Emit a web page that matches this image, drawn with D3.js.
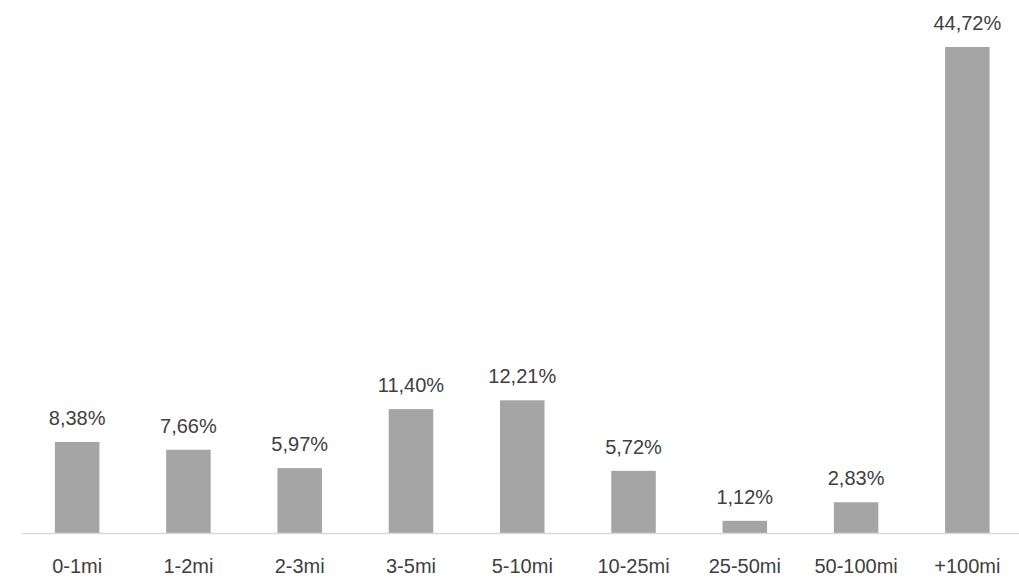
<!DOCTYPE html>
<html>
<head>
<meta charset="utf-8">
<script src="https://cdn.jsdelivr.net/npm/d3@7"></script>
<style>
  html, body { margin: 0; padding: 0; background: #fff; }
  svg { display: block; }
  text { font-family: "Liberation Sans", Arial, sans-serif; fill: #404040; }
</style>
</head>
<body>
<svg id="chart" width="1019" height="578"></svg>
<script>
// Share of records by distance band (%)
const categories = ["0-1mi", "1-2mi", "2-3mi", "3-5mi", "5-10mi", "10-25mi", "25-50mi", "50-100mi", "+100mi"];
const values = [8.38, 7.66, 5.97, 11.40, 12.21, 5.72, 1.12, 2.83, 44.72];

const width = 1019, height = 578;
const baseY = 533;
const svg = d3.select("#chart");

const x = d3.scaleBand()
  .domain(categories)
  .range([21.5, 1023])
  .paddingInner(0.6)
  .paddingOuter(0.3);

const y = d3.scaleLinear()
  .domain([0, 44.72])
  .range([baseY, 47]);

const fmt = v => v.toFixed(2).replace(".", ",") + "%";

// bars
svg.append("g")
  .selectAll("rect")
  .data(values)
  .join("rect")
  .attr("x", (d, i) => x(categories[i]))
  .attr("width", x.bandwidth())
  .attr("y", d => y(d))
  .attr("height", d => y(0) - y(d))
  .attr("fill", "#a5a5a5");

// value labels
svg.append("g")
  .selectAll("text")
  .data(values)
  .join("text")
  .attr("x", (d, i) => x(categories[i]) + x.bandwidth() / 2)
  .attr("y", d => y(d) - 17)
  .attr("text-anchor", "middle")
  .attr("font-size", 20)
  .text(fmt);

// category axis
const axis = svg.append("g")
  .attr("transform", `translate(0,${baseY})`)
  .call(d3.axisBottom(x).tickSize(0).tickPadding(26));
axis.select(".domain").attr("stroke", "#d9d9d9").attr("stroke-width", 1.5)
  .attr("d", `M21.5,0.5H1019`);
axis.selectAll("text")
  .attr("font-size", 20)
  .attr("font-family", "Liberation Sans, Arial, sans-serif")
  .attr("fill", "#404040");
</script>
</body>
</html>
